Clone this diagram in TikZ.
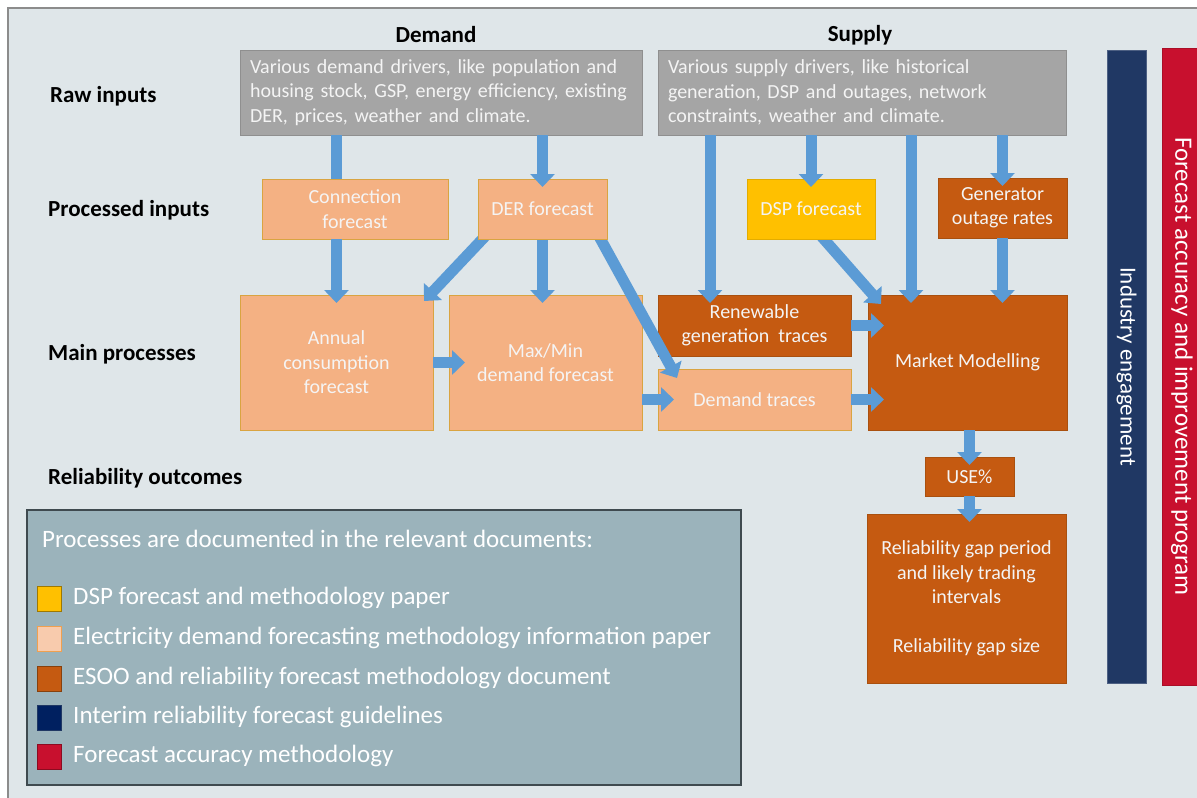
\documentclass[tikz,border=0pt]{standalone}
\usepackage{fontspec}
\setmainfont{Carlito}
\usetikzlibrary{arrows.meta,calc}
\pgfdeclarelayer{front}
\pgfdeclarelayer{top}
\pgfsetlayers{main,front,top}
\definecolor{bg}{HTML}{DFE6E9}
\definecolor{framecol}{HTML}{8C8C8C}
\definecolor{graybox}{HTML}{A5A5A5}
\definecolor{grayedge}{HTML}{8F8F8F}
\definecolor{salmon}{HTML}{F4B183}
\definecolor{salmonedge}{HTML}{D9A441}
\definecolor{rust}{HTML}{C55A11}
\definecolor{rustedge}{HTML}{A9500F}
\definecolor{dspcol}{HTML}{FFC000}
\definecolor{dspedge}{HTML}{E3AC00}
\definecolor{arrowblue}{HTML}{5B9BD5}
\definecolor{navycol}{HTML}{203864}
\definecolor{crimson}{HTML}{C8102E}
\definecolor{legendbg}{HTML}{9BB3BB}
\definecolor{legendedge}{HTML}{3F4A4F}
\definecolor{boxtext}{HTML}{F4F4F4}
\definecolor{peach}{HTML}{F8CBAD}
\definecolor{peachedge}{HTML}{F0A050}
\definecolor{legnavy}{HTML}{002060}
\begin{document}
\begin{tikzpicture}[x=1pt,y=-1pt,
  box/.style={anchor=north west, inner sep=0pt, outer sep=0pt, line width=1pt,
    text=boxtext, align=center, font=\fontsize{20}{24.4}\selectfont},
  rawbox/.style={box, fill=graybox, draw=grayedge, align=left},
  salbox/.style={box, fill=salmon, draw=salmonedge},
  rustbox/.style={box, fill=rust, draw=rustedge},
  dspbox/.style={box, fill=dspcol, draw=dspedge},
  rowlabel/.style={anchor=west, inner sep=0pt, font=\bfseries\fontsize{23}{26}\selectfont},
  colhead/.style={inner sep=0pt, font=\bfseries\fontsize{23}{26}\selectfont},
  barrow/.style={draw=arrowblue, line width=11pt, -{Triangle[width=24pt,length=13pt]}},
  vtip/.style={shorten >=-8pt},
  htip/.style={shorten >=-16pt},
  legsq/.style={anchor=north west, inner sep=0pt, outer sep=0pt, minimum width=24pt, minimum height=25pt, line width=1pt},
  legtext/.style={anchor=west, inner sep=0pt, text=white, font=\fontsize{25}{28}\selectfont},
  bartext/.style={rotate=-90, inner sep=0pt, text=white}
]
\useasboundingbox (0,0) rectangle (1197,798);
% frame and background
\fill[white] (0,0) rectangle (1197,798);
\draw[framecol, fill=bg, line width=2pt] (1210,8) -- (8,8) -- (8,810) -- (1210,810) -- cycle;

% headers and row labels
\node[colhead] (hdem) at (436,35) {Demand};
\node[colhead] (hsup) at (860,35) {Supply};
\node[rowlabel] (lraw) at (50,96) {Raw inputs};
\node[rowlabel] (lproc) at (48,210) {Processed inputs};
\node[rowlabel] (lmain) at (48,354) {Main processes};
\node[rowlabel] (lrel) at (48,478) {Reliability outcomes};

% raw inputs
\node[rawbox, minimum width=402pt, minimum height=85pt, text width=382pt] (dgray) at (240,50)
  {Various demand drivers, like population and\\housing stock, GSP, energy efficiency, existing\\DER, prices, weather and climate.};
\node[rawbox, minimum width=408pt, minimum height=85pt, text width=388pt] (sgray) at (658,50)
  {Various supply drivers, like historical\\generation, DSP and outages, network\\constraints, weather and climate.};

% processed inputs
\node[salbox, minimum width=186pt, minimum height=60pt] (conn) at (262,179) {Connection\\forecast};
\node[rustbox, minimum width=129pt, minimum height=60pt] (gen) at (938,178) {Generator\\outage rates};

% main processes
\node[salbox, minimum width=193pt, minimum height=135pt] (annual) at (240,295) {Annual\\consumption\\forecast};
\node[salbox, minimum width=193pt, minimum height=135pt] (maxmin) at (449,295) {Max/Min\\demand forecast};
\node[rustbox, minimum width=193pt, minimum height=61pt] (renew) at (658,295) {Renewable\\generation\ \ traces};
\node[salbox, minimum width=193pt, minimum height=61pt] (demtr) at (658,369) {Demand traces};
\node[rustbox, minimum width=199pt, minimum height=135pt] (market) at (868,295) {Market Modelling};

% outcomes
\node[rustbox, minimum width=89pt, minimum height=39pt] (use) at (925,457) {USE\%};
\node[rustbox, minimum width=199pt, minimum height=169pt] (rel) at (867,514)
  {Reliability gap period\\and likely trading\\intervals\\[24.4pt]Reliability gap size};

% side bars
\node[box, fill=navycol, draw=navycol!80!white, minimum width=39pt, minimum height=633pt] (ind) at (1107,50) {};
\node[bartext, font=\fontsize{23}{26}\selectfont] (indt) at (ind.center) {Industry engagement};
\node[box, fill=crimson, draw=crimson!85!black, minimum width=40pt, minimum height=637pt] (fa) at (1162,48) {};
\node[bartext, font=\fontsize{25}{28}\selectfont] (fat) at (fa.center) {Forecast accuracy and improvement program};

% arrows (main layer)
\draw[draw=arrowblue, line width=11pt] (dgray.south -| annual.north) -- (conn.north -| annual.north);
\draw[barrow, vtip] (conn.south -| annual.north) -- (annual.north);
\draw[barrow, htip] (annual.east) -- (annual.east -| maxmin.west);
\draw[barrow, htip] (maxmin.east |- demtr.east) -- (demtr.west);
\draw[barrow, vtip] (sgray.south -| gen.north) -- (gen.north);
\draw[barrow, vtip] (gen.south) -- (market.north -| gen.south);
\draw[barrow, htip] (renew.east) -- (renew.east -| market.west);
\draw[barrow, htip] (demtr.east) -- (demtr.east -| market.west);
\draw[barrow, vtip] (market.south -| use.north) -- (use.north);
\draw[barrow, vtip] (use.south) -- (rel.north -| use.south);
\coordinate (xren) at (710,0);
\coordinate (xmkt) at (911,0);
\draw[barrow, vtip] (sgray.south -| xren) -- (renew.north -| xren);
\draw[barrow, vtip] (sgray.south -| xmkt) -- (market.north -| xmkt);

% DER and DSP on front layer so diagonal shafts start behind them
\begin{pgfonlayer}{front}
\node[salbox, minimum width=129pt, minimum height=60pt] (der) at (478,179) {DER forecast};
\node[dspbox, minimum width=128pt, minimum height=60pt] (dsp) at (747,179) {DSP forecast};
\end{pgfonlayer}
\draw[barrow, vtip] (der.south) -- (maxmin.north -| der.south);
\draw[barrow] ($(der.south west)+(14,-10)$) -- ($(annual.north east)+(-9,6)$);
\draw[barrow] ($(der.south east)+(-12,-10)$) -- ($(demtr.north west)+(19,9)$);
\draw[barrow] ($(dsp.south west)+(68,-10)$) -- ($(market.north west)+(13,9)$);
\begin{pgfonlayer}{top}
\draw[barrow, vtip] (dgray.south -| der.north) -- (der.north);
\draw[barrow, vtip] (sgray.south -| dsp.north) -- (dsp.north);
\end{pgfonlayer}

% legend
\node[anchor=north west, inner sep=0pt, outer sep=0pt, fill=legendbg, draw=legendedge, line width=1.2pt,
  minimum width=714pt, minimum height=275pt] (legend) at (27,510) {};
\node[legtext] (legt) at (42,539) {Processes are documented in the relevant documents:};
\node[legsq, fill=dspcol, draw=dspedge!70!black] (sq1) at (37,586) {};
\node[legtext] (lt1) at (73,598) {DSP forecast and methodology paper};
\node[legsq, fill=peach, draw=peachedge] (sq2) at (37,626) {};
\node[legtext] (lt2) at (73,638) {Electricity demand forecasting methodology information paper};
\node[legsq, fill=rust, draw=rustedge!80!black] (sq3) at (37,666) {};
\node[legtext] (lt3) at (73,678) {ESOO and reliability forecast methodology document};
\node[legsq, fill=legnavy, draw=navycol] (sq4) at (37,705) {};
\node[legtext] (lt4) at (73,717) {Interim reliability forecast guidelines};
\node[legsq, fill=crimson, draw=crimson!70!black] (sq5) at (37,744) {};
\node[legtext] (lt5) at (73,756) {Forecast accuracy methodology};
\end{tikzpicture}
\end{document}
